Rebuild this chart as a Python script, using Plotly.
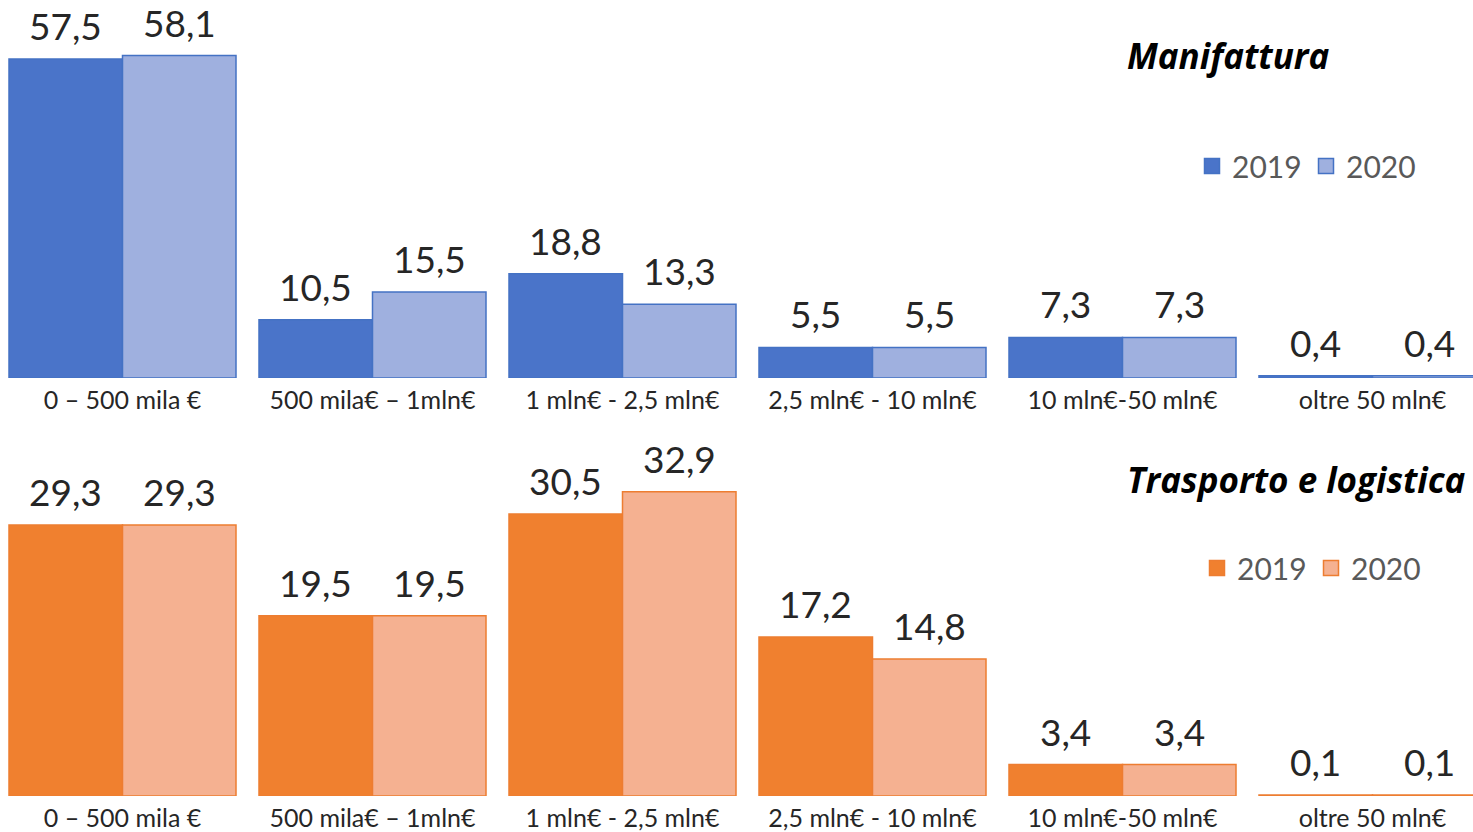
import plotly.graph_objects as go

categories = ["0 – 500 mila €", "500 mila€ – 1mln€", "1 mln€ - 2,5 mln€",
              "2,5 mln€ - 10 mln€", "10 mln€-50 mln€", "oltre 50 mln€"]
manif_2019 = [57.5, 10.5, 18.8, 5.5, 7.3, 0.4]
manif_2020 = [58.1, 15.5, 13.3, 5.5, 7.3, 0.4]
trasp_2019 = [29.3, 19.5, 30.5, 17.2, 3.4, 0.1]
trasp_2020 = [29.3, 19.5, 32.9, 14.8, 3.4, 0.1]
series_names = ["2019", "2020"]
titles = ["Manifattura", "Trasporto e logistica"]

W, H = 1473, 832
OFF = 0  # page body margin removed via post_script
FONT = "Lato"
CAT_PX = 250.0
BARGAP = 0.092
HALF = CAT_PX * (1 - BARGAP) / 4  # half of a single bar width (px)


def fmt(v):
    return f"{v:.1f}".replace(".", ",")


def py(px):
    return (H - (px - OFF)) / H


def px_x(px):
    return (px - OFF) / W


fig = go.Figure()

specs = [
    (manif_2019, "#4a74c9", "#4472c4", "x", "y", "legend", series_names[0], -1),
    (manif_2020, "#9fb0df", "#4472c4", "x", "y", "legend", series_names[1], 1),
    (trasp_2019, "#f0802f", "#ed7d31", "x2", "y2", "legend2", series_names[0], -1),
    (trasp_2020, "#f5b191", "#ed7d31", "x2", "y2", "legend2", series_names[1], 1),
]
for vals, fill, line, xa, ya, lg, name, side in specs:
    fig.add_trace(go.Bar(
        x=categories, y=vals, name=name,
        marker=dict(color=fill, line=dict(color=line, width=1.5)),
        xaxis=xa, yaxis=ya, showlegend=False, offsetgroup=name,
    ))
    # legend entry with a larger square symbol
    fig.add_trace(go.Scatter(
        x=[None], y=[None], mode="markers", name=name, legend=lg,
        xaxis=xa, yaxis=ya,
        marker=dict(symbol="square", size=15, color=fill, line=dict(color=line, width=1.5)),
    ))
    for c, v in zip(categories, vals):
        fig.add_annotation(
            x=c, y=v, xref=xa, yref=ya, text=fmt(v), showarrow=False,
            xshift=side * HALF, yshift=9, yanchor="bottom", xanchor="center",
            height=36, valign="bottom",
            font=dict(family=FONT, size=37, color="#262626"))

r0 = -(122.5 - OFF) / CAT_PX
xr = [r0, r0 + W / CAT_PX]
axis_common = dict(type="category", range=xr, showgrid=False, zeroline=False,
                   showline=False, ticks="", automargin=False, ticklabelstandoff=5,
                   tickfont=dict(family=FONT, size=25, color="#262626"))
legend_common = dict(orientation="h", xanchor="left", yanchor="middle",
                     font=dict(family=FONT, size=30, color="#595959"),
                     entrywidth=69, entrywidthmode="pixels", bgcolor="rgba(0,0,0,0)")
fig.update_layout(
    width=W, height=H,
    margin=dict(l=0, r=0, t=0, b=0),
    paper_bgcolor="white", plot_bgcolor="white",
    barmode="group", bargap=BARGAP, bargroupgap=0,
    xaxis=dict(domain=[0, 1], anchor="y", **axis_common),
    xaxis2=dict(domain=[0, 1], anchor="y2", **axis_common),
    yaxis=dict(domain=[py(378), 1], range=[0, (378 - OFF) / 5.55], visible=False),
    yaxis2=dict(domain=[py(796), py(430)], range=[0, 366 / 9.25], visible=False),
    legend=dict(x=px_x(1192), y=py(166), **legend_common),
    legend2=dict(x=px_x(1197), y=py(568), **legend_common),
    showlegend=True,
)
for t, ypix in zip(titles, [55, 480]):
    fig.add_annotation(text=f"<b><i>{t}</i></b>", xref="paper", yref="paper",
                       x=px_x(1125), y=py(ypix), xanchor="left", yanchor="middle",
                       showarrow=False,
                       font=dict(family="Open Sans", size=35, color="black", weight=800))

fig.write_html("out.html", config={"displayModeBar": False},
               post_script="document.body.style.margin='0';document.body.style.padding='0';")
